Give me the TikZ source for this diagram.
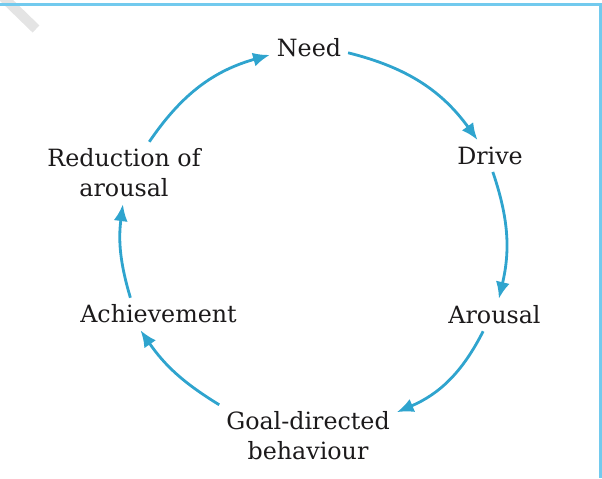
\documentclass[tikz,border=0pt]{standalone}
\usepackage{fontspec}
\setmainfont{DejaVu Serif}
\usepackage{xcolor}
\usetikzlibrary{arrows.meta}
\definecolor{cycleblue}{HTML}{2FA4CE}
\definecolor{framesky}{HTML}{72CAEE}
\definecolor{textdark}{HTML}{1C1A1B}
\definecolor{smudgegray}{HTML}{E4E4E4}
\tikzset{
  >={Latex[length=12pt,width=10pt]},
  cycline/.style={draw=cycleblue, ->, line width=2pt},
  frameline/.style={draw=framesky, line width=2pt},
  stage/.style={
    align=center,
    text=textdark,
    inner sep=5pt,
    outer sep=0pt,
    font=\fontsize{16.9}{21.3}\selectfont
  }
}

\begin{document}
\begin{tikzpicture}[x=0.025cm,y=-0.025cm]
  \path[use as bounding box] (0,0) rectangle (602,478);

  \draw[smudgegray, line width=7pt] (2,-4) -- (36,29);
  \draw[frameline] (0,4.5) -- (600.5,4.5) -- (600.5,478);

  \node[stage] (need) at (309,48) {Need};
  \node[stage] (drive) at (490,156) {Drive};
  \node[stage] (arousal) at (494.5,315) {Arousal};
  \node[stage] (goal) at (308,436) {Goal-directed\\behaviour};
  \node[stage] (achieve) at (158.5,314) {Achievement};
  \node[stage] (reduce) at (124,173) {Reduction of\\arousal};

  \draw[cycline] (need.-7) to[bend left=20] (drive.128);
  \draw[cycline] (drive.-80) to[bend left=16] (arousal.75);
  \draw[cycline] (arousal.-125) to[bend left=20] (goal.15);
  \draw[cycline] (goal.north west) to[bend left=12] (achieve.-138);
  \draw[cycline] (achieve.150) to[bend left=12] (reduce.-92);
  \draw[cycline] (reduce.51) to[bend left=20] (need.190);
\end{tikzpicture}
\end{document}
